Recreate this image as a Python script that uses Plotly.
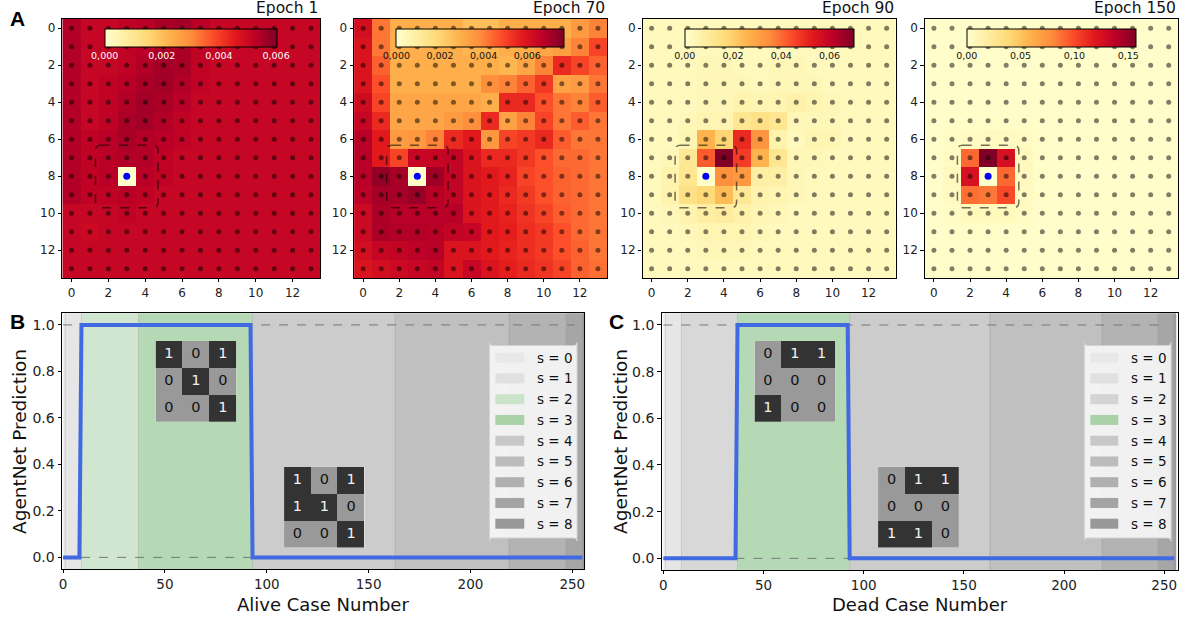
import numpy as np
import plotly.graph_objects as go

W, H = 1192, 619

# ---------------- data ----------------
grid_size = 14
agent_row, agent_col = 8, 3
epoch_titles = ["Epoch 1", "Epoch 70", "Epoch 90", "Epoch 150"]

# attention maps (probabilities), values x1e-4
epoch1_e4 = [
    [54, 51, 51, 52, 53, 55, 56, 53, 51, 51, 51, 51, 51, 51],
    [54, 51, 51, 52, 53, 55, 55, 52, 51, 51, 51, 51, 51, 51],
    [54, 51, 51, 52, 54, 56, 55, 52, 51, 51, 51, 51, 51, 51],
    [54, 51, 52, 53, 55, 56, 54, 52, 51, 51, 51, 51, 51, 51],
    [54, 51, 52, 54, 56, 55, 53, 51, 51, 51, 51, 51, 51, 51],
    [54, 51, 52, 55, 56, 54, 52, 51, 51, 51, 51, 51, 51, 51],
    [54, 52, 53, 55, 54, 53, 52, 51, 51, 51, 51, 51, 51, 51],
    [54, 52, 53, 54, 54, 52, 51, 51, 51, 51, 51, 51, 51, 51],
    [54, 52, 53, 0, 53, 52, 51, 51, 51, 51, 51, 51, 51, 51],
    [54, 52, 52, 53, 52, 51, 51, 51, 51, 51, 51, 51, 51, 51],
    [51, 51, 51, 52, 51, 51, 51, 51, 51, 51, 51, 51, 51, 51],
    [51, 50, 51, 51, 51, 51, 51, 51, 51, 51, 51, 51, 51, 51],
    [51, 51, 51, 51, 51, 51, 51, 51, 51, 51, 51, 51, 51, 51],
    [51, 51, 51, 51, 51, 51, 51, 51, 51, 51, 51, 51, 51, 51],
]
# values x1e-4
epoch70_e4 = [
    [62, 42, 30, 30, 30, 30, 26, 26, 30, 30, 30, 30, 35, 40],
    [60, 42, 30, 30, 30, 30, 28, 28, 30, 30, 32, 34, 40, 50],
    [60, 45, 30, 30, 30, 30, 30, 30, 28, 32, 40, 55, 50, 45],
    [60, 48, 30, 30, 30, 30, 30, 38, 40, 45, 52, 33, 35, 42],
    [63, 50, 32, 32, 32, 32, 32, 30, 55, 55, 48, 42, 40, 46],
    [65, 55, 32, 32, 32, 35, 38, 55, 33, 40, 50, 42, 46, 42],
    [68, 58, 35, 36, 40, 55, 58, 36, 50, 52, 55, 46, 42, 42],
    [68, 58, 50, 65, 65, 66, 60, 55, 55, 52, 48, 44, 44, 42],
    [68, 74, 71, 0, 72, 66, 60, 58, 56, 50, 48, 45, 44, 42],
    [67, 71, 71, 73, 68, 66, 60, 58, 55, 52, 48, 45, 44, 42],
    [64, 70, 68, 68, 68, 68, 60, 58, 56, 53, 50, 46, 44, 42],
    [64, 70, 69, 69, 68, 66, 65, 58, 57, 54, 52, 48, 44, 42],
    [62, 65, 66, 67, 68, 60, 60, 58, 56, 54, 52, 48, 45, 42],
    [60, 62, 64, 65, 66, 60, 65, 60, 57, 55, 53, 50, 45, 43],
]
# values x1e-3
epoch90_e3 = [
    [3, 3, 3, 3, 3, 3, 3, 3, 3, 3, 3, 3, 3, 3],
    [3, 3, 3, 3, 3, 3, 3, 3, 3, 3, 3, 3, 3, 3],
    [3, 3, 3, 4, 4, 3, 3, 4, 4, 3, 3, 3, 3, 3],
    [3, 3, 3, 4, 4, 4, 3, 4, 4, 4, 3, 3, 3, 3],
    [3, 3, 3, 4, 4, 6, 5, 5, 7, 5, 4, 3, 3, 3],
    [3, 3, 4, 5, 5, 12, 14, 12, 4, 4, 4, 3, 3, 3],
    [3, 3, 5, 26, 18, 50, 33, 6, 3, 5, 5, 3, 3, 3],
    [3, 4, 11, 42, 70, 47, 26, 12, 4, 4, 3, 3, 3, 3],
    [3, 6, 12, 0, 34, 32, 8, 8, 4, 3, 3, 3, 3, 3],
    [3, 6, 14, 17, 24, 11, 6, 5, 4, 3, 3, 3, 3, 3],
    [3, 4, 6, 8, 9, 7, 5, 4, 3, 3, 3, 3, 3, 3],
    [3, 3, 4, 5, 5, 5, 4, 3, 3, 3, 3, 3, 3, 3],
    [3, 3, 3, 4, 4, 4, 3, 3, 3, 3, 3, 3, 3, 3],
    [3, 3, 3, 3, 3, 3, 3, 3, 3, 3, 3, 3, 3, 3],
]
# values x1e-3
epoch150_e3 = [
    [1, 1, 1, 1, 1, 1, 1, 1, 1, 1, 1, 1, 1, 1],
    [1, 1, 1, 1, 1, 1, 1, 1, 1, 1, 1, 1, 1, 1],
    [1, 1, 1, 1, 1, 1, 1, 1, 1, 1, 1, 1, 1, 1],
    [1, 1, 1, 1, 1, 1, 1, 1, 1, 1, 1, 1, 1, 1],
    [1, 1, 1, 1, 1, 1, 1, 1, 1, 1, 1, 1, 1, 1],
    [1, 2, 2, 2, 2, 2, 1, 1, 1, 1, 1, 1, 1, 1],
    [1, 3, 4, 5, 5, 4, 2, 1, 1, 1, 1, 1, 1, 1],
    [1, 4, 90, 157, 125, 6, 2, 1, 1, 1, 1, 1, 1, 1],
    [1, 6, 125, 0, 90, 6, 2, 1, 1, 1, 1, 1, 1, 1],
    [1, 5, 88, 85, 100, 5, 2, 1, 1, 1, 1, 1, 1, 1],
    [1, 3, 7, 7, 7, 4, 1, 1, 1, 1, 1, 1, 1, 1],
    [1, 2, 2, 2, 2, 2, 1, 1, 1, 1, 1, 1, 1, 1],
    [1, 1, 1, 1, 1, 1, 1, 1, 1, 1, 1, 1, 1, 1],
    [1, 1, 1, 1, 1, 1, 1, 1, 1, 1, 1, 1, 1, 1],
]
map_scales = [1e-4, 1e-4, 1e-3, 1e-3]

cb_max = [0.00602, 0.0077, 0.07, 0.157]
cb_tickvals = [[0, 0.002, 0.004, 0.006], [0, 0.002, 0.004, 0.006],
               [0, 0.02, 0.04, 0.06], [0, 0.05, 0.10, 0.15]]
cb_ticktext = [["0,000", "0,002", "0,004", "0,006"], ["0,000", "0,002", "0,004", "0,006"],
               ["0,00", "0,02", "0,04", "0,06"], ["0,00", "0,05", "0,10", "0,15"]]
cb_label_color = ["white", "#111111", "#111111", "#111111"]

# neighbourhood configurations grouped by number of live neighbours s
s_counts = [1, 8, 28, 56, 70, 56, 28, 8, 1]
alive_case = [0, 8, 9, 92, 93, 255]
alive_pred = [0, 0, 1, 1, 0, 0]
dead_case = [0, 36, 37, 92, 93, 255]
dead_pred = [0, 0, 1, 1, 0, 0]

inset_B1 = [[1, 0, 1], [0, 1, 0], [0, 0, 1]]
inset_B2 = [[1, 0, 1], [1, 1, 0], [0, 0, 1]]
inset_C1 = [[0, 1, 1], [0, 0, 0], [1, 0, 0]]
inset_C2 = [[0, 1, 1], [0, 0, 0], [1, 1, 0]]

# ---------------- styling ----------------
YLORRD = ['#ffffcc', '#ffeda0', '#fed976', '#feb24c', '#fd8d3c',
          '#fc4e2a', '#e31a1c', '#bd0026', '#800026']
ylorrd_scale = [[i / 8, c] for i, c in enumerate(YLORRD)]

region_colors_B = ['#eeeeee', '#e6e6e6', '#d0e6d0', '#b5d9b5', '#cccccc',
                   '#c0c0c0', '#b3b3b3', '#a6a6a6', '#999999']
region_colors_C = ['#eeeeee', '#e6e6e6', '#d8d8d8', '#b5d9b5', '#cccccc',
                   '#c0c0c0', '#b3b3b3', '#a6a6a6', '#999999']
legend_colors_B = ['#e8e8e8', '#e0e0e0', '#cbe3cb', '#a9d2a9', '#c8c8c8',
                   '#bcbcbc', '#b0b0b0', '#a4a4a4', '#989898']
legend_colors_C = ['#e8e8e8', '#e0e0e0', '#d4d4d4', '#a9d2a9', '#c8c8c8',
                   '#bcbcbc', '#b0b0b0', '#a4a4a4', '#989898']

FONT = "DejaVu Sans"


def dx(a, b):
    return [a / W, b / W]


def dy(top, bottom):
    return [1 - bottom / H, 1 - top / H]


def px(x):
    return x / W


def py(y):
    return 1 - y / H


def rounded_path(x0, y0, x1, y1, rx, ry):
    return (f"M {x0+rx},{y0} L {x1-rx},{y0} Q {x1},{y0} {x1},{y0+ry} "
            f"L {x1},{y1-ry} Q {x1},{y1} {x1-rx},{y1} L {x0+rx},{y1} "
            f"Q {x0},{y1} {x0},{y1-ry} L {x0},{y0+ry} Q {x0},{y0} {x0+rx},{y0} Z")


fig = go.Figure()
shapes = []
annotations = []
layout_axes = {}

panel_x = [(59.5, 318.3), (352.3, 606), (641.7, 895.7), (925, 1178.7)]
cb_x = [(102, 274), (394.7, 562.7), (684, 852.7), (967, 1135.7)]
top_y = (19, 278)

maps = [epoch1_e4, epoch70_e4, epoch90_e3, epoch150_e3]
cells = list(range(grid_size))
gx, gy = np.meshgrid(cells, cells)
mask = ~((gx == agent_col) & (gy == agent_row))

for i in range(4):
    n = i + 1
    sfx = "" if n == 1 else str(n)
    z = (np.array(maps[i], dtype=float) * map_scales[i]).tolist()
    fig.add_trace(go.Heatmap(
        z=z, x=cells, y=cells, zmin=0, zmax=cb_max[i], colorscale=ylorrd_scale,
        xaxis="x" + sfx, yaxis="y" + sfx, hoverinfo="skip",
        colorbar=dict(orientation="h", x=px(cb_x[i][0]), xanchor="left",
                      y=py(29), yanchor="top", len=cb_x[i][1] - cb_x[i][0],
                      lenmode="pixels", thickness=18, thicknessmode="pixels",
                      xpad=0, ypad=0, outlinewidth=1, outlinecolor="black",
                      tickvals=cb_tickvals[i], ticktext=cb_ticktext[i], ticks="",
                      tickfont=dict(size=9.5, color=cb_label_color[i], family=FONT)),
    ))
    fig.add_trace(go.Scatter(
        x=gx[mask], y=gy[mask], mode="markers", xaxis="x" + sfx, yaxis="y" + sfx,
        marker=dict(size=5, color="rgba(0,0,0,0.5)"), hoverinfo="skip"))
    fig.add_trace(go.Scatter(
        x=[agent_col], y=[agent_row], mode="markers", xaxis="x" + sfx, yaxis="y" + sfx,
        marker=dict(size=7, color="#0000ff"), hoverinfo="skip"))
    layout_axes["xaxis" + sfx] = dict(
        domain=dx(*panel_x[i]), range=[-0.5, grid_size - 0.5], anchor="y" + sfx,
        tickvals=list(range(0, grid_size, 2)), ticks="outside", ticklen=3,
        tickcolor="black", showline=True, mirror=True, linecolor="black",
        linewidth=1.2, showgrid=False, zeroline=False,
        tickfont=dict(size=12, color="#222", family=FONT))
    layout_axes["yaxis" + sfx] = dict(
        domain=dy(*top_y), range=[grid_size - 0.5, -0.5], anchor="x" + sfx,
        tickvals=list(range(0, grid_size, 2)), ticks="outside", ticklen=3.5,
        tickcolor="black", showline=True, mirror=True, linecolor="black",
        linewidth=1.2, showgrid=False, zeroline=False,
        tickfont=dict(size=12, color="#222", family=FONT))
    shapes.append(dict(
        type="path", xref="x" + sfx, yref="y" + sfx, layer="above",
        path=rounded_path(agent_col - 1.7, agent_row - 1.68, agent_col + 1.7,
                          agent_row + 1.7, 0.3, 0.3),
        line=dict(color="rgba(0,0,0,0.55)", width=1.5, dash="dash")))
    annotations.append(dict(
        text=epoch_titles[i], x=px(panel_x[i][1]), y=py(8.5), xref="paper", yref="paper",
        xanchor="right", yanchor="middle", showarrow=False,
        font=dict(size=15.5, color="#111", family=FONT)))

# ---------------- bottom panels ----------------
bounds = np.concatenate([[0], np.cumsum(s_counts)])
bottom = [
    dict(n=5, xd=(59.3, 583.3), yd=(313.3, 569), xr=[-0.5, 255.9],
         case=alive_case, pred=alive_pred, regions=region_colors_B,
         legend=legend_colors_B, lbox=(488, 576), lsw=(494, 523), ltx=534,
         title="Alive Case Number",
         insets=[(inset_B1, (153, 234), (341, 421.7)), (inset_B2, (282, 362.7), (466.7, 547.7))]),
    dict(n=6, xd=(661, 1179), yd=(313.3, 570), xr=[-0.8, 256.9],
         case=dead_case, pred=dead_pred, regions=region_colors_C,
         legend=legend_colors_C, lbox=(1085, 1172), lsw=(1091, 1119), ltx=1130,
         title="Dead Case Number",
         insets=[(inset_C1, (754, 835), (341, 421.7)), (inset_C2, (878, 959), (466.7, 547.7))]),
]

inset_n = 7
for p in bottom:
    sfx = str(p["n"])
    xa, ya = "x" + sfx, "y" + sfx
    for k in range(len(s_counts)):
        shapes.append(dict(type="rect", xref=xa, yref=ya + " domain", layer="below",
                           x0=bounds[k], x1=bounds[k + 1], y0=0, y1=1,
                           fillcolor=p["regions"][k], line=dict(width=0)))
    for b in bounds[1:-1]:
        shapes.append(dict(type="line", xref=xa, yref=ya + " domain", layer="below",
                           x0=b, x1=b, y0=0, y1=1,
                           line=dict(color="rgba(0,0,0,0.13)", width=1)))
    for yv in (0, 1):
        shapes.append(dict(type="line", xref=xa, yref=ya, layer="below",
                           x0=0, x1=251, y0=yv, y1=yv,
                           line=dict(color="#777777", width=1, dash="dash")))
    fig.add_trace(go.Scatter(x=p["case"], y=p["pred"], mode="lines", xaxis=xa, yaxis=ya,
                             line=dict(color="#4169e1", width=4), hoverinfo="skip"))
    layout_axes["xaxis" + sfx] = dict(
        domain=dx(*p["xd"]), range=p["xr"], anchor=ya, tickvals=[0, 50, 100, 150, 200, 250],
        ticks="outside", ticklen=3, tickcolor="black", showline=True, mirror=True,
        linecolor="black", linewidth=1.2, showgrid=False, zeroline=False,
        tickfont=dict(size=13.5, color="#222", family=FONT))
    layout_axes["yaxis" + sfx] = dict(
        domain=dy(*p["yd"]), range=[-0.05, 1.05], anchor=xa,
        tickvals=[0, 0.2, 0.4, 0.6, 0.8, 1.0], tickformat=".1f",
        ticks="outside", ticklen=3.5, tickcolor="black", showline=True, mirror=True,
        linecolor="black", linewidth=1.2, showgrid=False, zeroline=False,
        tickfont=dict(size=14, color="#222", family=FONT))
    xc = (p["xd"][0] + p["xd"][1]) / 2
    annotations.append(dict(text=p["title"], x=px(xc), y=py(604.5), xref="paper", yref="paper",
                            xanchor="center", yanchor="middle", showarrow=False,
                            font=dict(size=18, color="#111", family=FONT)))
    ylab_x = 16 if p["n"] == 5 else 619
    annotations.append(dict(text="AgentNet Prediction", x=px(ylab_x), y=py(441),
                            xref="paper", yref="paper", xanchor="center", yanchor="middle",
                            textangle=-90, showarrow=False,
                            font=dict(size=18.5, color="#111", family=FONT)))
    # legend
    lx0, lx1 = p["lbox"]
    shapes.append(dict(type="path", xref="paper", yref="paper", layer="above",
                       path=rounded_path(px(lx0), py(538), px(lx1), py(345.5),
                                         3 / W, -3 / H),
                       fillcolor="rgba(245,245,245,0.93)",
                       line=dict(color="#d2d2d2", width=1)))
    for k in range(len(s_counts)):
        yc = 357.7 + k * 20.75
        shapes.append(dict(type="rect", xref="paper", yref="paper", layer="above",
                           x0=px(p["lsw"][0]), x1=px(p["lsw"][1]),
                           y0=py(yc + 5), y1=py(yc - 5),
                           fillcolor=p["legend"][k], line=dict(width=0)))
        annotations.append(dict(text=f"s = {k}", x=px(p["ltx"]), y=py(yc),
                                xref="paper", yref="paper", xanchor="left",
                                yanchor="middle", showarrow=False,
                                font=dict(size=13.5, color="#111", family=FONT)))
    # insets
    for grid, ixd, iyd in p["insets"]:
        isfx = str(inset_n)
        g = np.array(grid)
        fig.add_trace(go.Heatmap(z=grid, x=[0, 1, 2], y=[0, 1, 2], zmin=0, zmax=1,
                                 colorscale=[[0, "#999999"], [1, "#333333"]],
                                 showscale=False, xaxis="x" + isfx, yaxis="y" + isfx,
                                 hoverinfo="skip"))
        iy, ix = np.indices(g.shape)
        fig.add_trace(go.Scatter(
            x=ix.ravel(), y=iy.ravel(), mode="text", text=[str(v) for v in g.ravel()],
            textfont=dict(size=14.5, family=FONT,
                          color=["#f2f2f2" if v else "#111111" for v in g.ravel()]),
            xaxis="x" + isfx, yaxis="y" + isfx, hoverinfo="skip"))
        layout_axes["xaxis" + isfx] = dict(domain=dx(*ixd), range=[-0.5, 2.5], visible=False,
                                           anchor="y" + isfx, fixedrange=True)
        layout_axes["yaxis" + isfx] = dict(domain=dy(*iyd), range=[2.5, -0.5], visible=False,
                                           anchor="x" + isfx, fixedrange=True)
        inset_n += 1

for lab, (lxp, lyp) in zip(["A", "B", "C"], [(15, 18), (15, 321), (616, 321)]):
    annotations.append(dict(text=f"<b>{lab}</b>", x=px(lxp), y=py(lyp), xref="paper",
                            yref="paper", xanchor="center", yanchor="middle",
                            showarrow=False,
                            font=dict(size=21, color="black", family="Liberation Sans")))

fig.update_layout(width=W, height=H, margin=dict(l=0, r=0, t=0, b=0),
                  paper_bgcolor="white", plot_bgcolor="white", showlegend=False,
                  font=dict(family=FONT), shapes=shapes, annotations=annotations,
                  **layout_axes)
fig.write_html("out.html", config={"displayModeBar": False},
               post_script="document.body.style.margin='0px';"
                           "document.body.style.overflow='hidden';")
